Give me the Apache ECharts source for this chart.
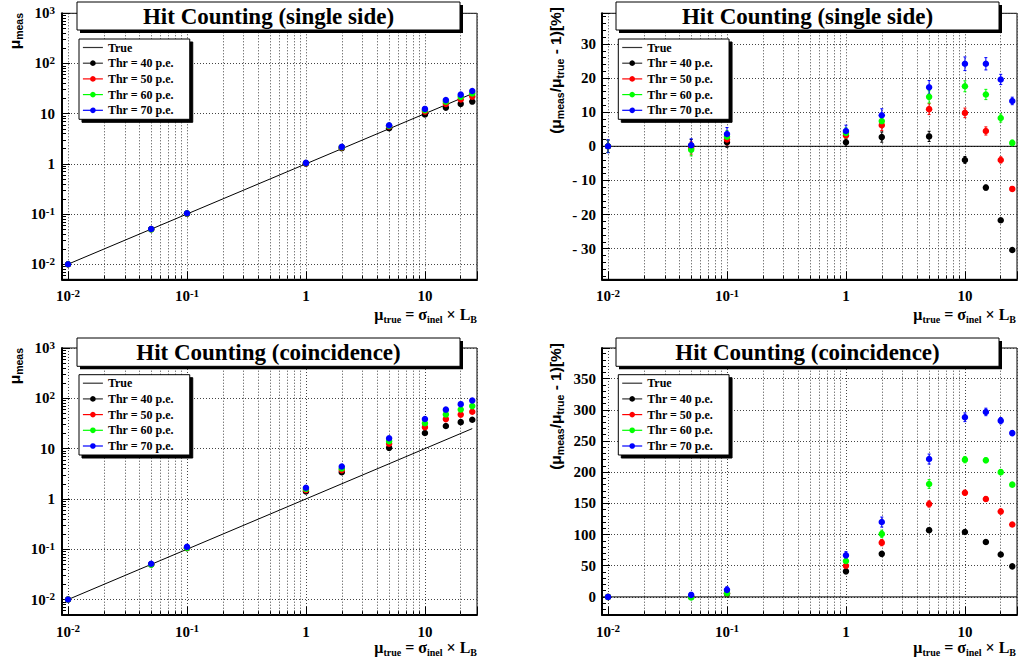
<!DOCTYPE html>
<html>
<head>
<meta charset="utf-8">
<script src="https://cdn.jsdelivr.net/npm/echarts@6/dist/echarts.min.js"></script>
<style>html,body{margin:0;padding:0;background:#fff}#c{width:1018px;height:666px}</style>
</head>
<body>
<div id="c"></div>
<script>
// ---------------- data ----------------
const muTrue = [0.01, 0.05, 0.1, 1, 2, 5, 10, 15, 20, 25];
const thresholds = ['Thr = 40 p.e.', 'Thr = 50 p.e.', 'Thr = 60 p.e.', 'Thr = 70 p.e.'];
const titles = ['Hit Counting (single side)', 'Hit Counting (single side)', 'Hit Counting (coincidence)', 'Hit Counting (coincidence)'];

// single side: measured mu
const single40 = [0.0100, 0.0501, 0.1012, 1.012, 2.055, 5.145, 9.60, 13.19, 15.67, 17.40];
const single50 = [0.0100, 0.0498, 0.1020, 1.032, 2.123, 5.545, 10.98, 15.68, 19.20, 21.88];
const single60 = [0.0100, 0.0495, 0.1028, 1.039, 2.148, 5.725, 11.76, 17.28, 21.66, 25.25];
const single70 = [0.0100, 0.0502, 0.1036, 1.045, 2.182, 5.865, 12.42, 18.63, 23.92, 28.33];

// single side: deviation [%]
const devSingle40 = [0.0, 0.2, 1.2, 1.2, 2.7, 2.9, -4.0, -12.1, -21.7, -30.4];
const devSingle50 = [0.0, -0.5, 2.0, 3.2, 6.2, 10.9, 9.8, 4.5, -4.0, -12.5];
const devSingle60 = [0.0, -1.0, 2.8, 3.9, 7.4, 14.5, 17.6, 15.2, 8.3, 1.0];
const devSingle70 = [0.0, 0.3, 3.6, 4.5, 9.1, 17.3, 24.2, 24.2, 19.6, 13.3];
const errSingle40 = [1.8, 1.8, 1.5, 1.2, 1.5, 1.5, 1.0, 0.7, 0.5, 0.4];
const errSingle50 = [1.8, 1.8, 1.6, 1.3, 1.6, 1.6, 1.4, 1.2, 0.9, 0.6];
const errSingle60 = [1.8, 1.8, 1.8, 1.5, 1.7, 1.8, 1.6, 1.5, 1.2, 0.8];
const errSingle70 = [1.9, 1.9, 1.9, 1.7, 1.9, 2.0, 2.0, 1.8, 1.5, 1.1];

// coincidence: measured mu
const coinc40 = [0.0100, 0.0500, 0.1050, 1.410, 3.39, 10.37, 20.4, 28.2, 33.6, 37.4];
const coinc50 = [0.0100, 0.0503, 0.1060, 1.500, 3.74, 12.47, 26.7, 38.6, 47.4, 54.0];
const coinc60 = [0.0100, 0.0495, 0.1060, 1.575, 4.02, 14.08, 32.0, 47.9, 60.0, 70.0];
const coinc70 = [0.0100, 0.0516, 0.1113, 1.666, 4.40, 16.05, 38.8, 59.5, 76.5, 90.7];

// coincidence: deviation [%]
const devCoinc40 = [0, 0.0, 5.0, 41.0, 69.0, 107.0, 104.0, 88.0, 68.0, 49.0];
const devCoinc50 = [0, 0.5, 6.0, 50.0, 87.0, 149.0, 167.0, 157.0, 137.0, 116.0];
const devCoinc60 = [0, -1.0, 6.0, 57.5, 101.0, 181.0, 220.0, 219.0, 200.0, 180.0];
const devCoinc70 = [0, 3.2, 11.3, 66.6, 120.0, 221.0, 288.0, 296.5, 282.5, 262.6];
const errCoinc40 = [2, 2, 3, 3, 3, 3, 3, 3, 3, 3];
const errCoinc50 = [2, 3, 3, 4, 5, 5, 4, 4, 4, 3];
const errCoinc60 = [2, 3, 4, 5, 6, 7, 5, 4, 4, 3];
const errCoinc70 = [2, 4, 5, 6, 8, 8, 7, 6, 5, 4];

// "True" reference line
const trueLineX = [0.01, 25];
const trueLineY = [0.01, 25];

// axis ranges and ticks
const X_MIN = 0.0089, X_MAX = 27.4;
const YLOG_MIN = 0.005, YLOG_MAX = 1000;
const devRanges = [[-39, 39], [-28.5, 399]];
const devSteps = [10, 50];
const xMinorTicks = [0.02, 0.03, 0.04, 0.05, 0.06, 0.07, 0.08, 0.09, 0.2, 0.3, 0.4, 0.5, 0.6, 0.7, 0.8, 0.9, 2, 3, 4, 5, 6, 7, 8, 9, 20];
const yLogMinorTicks = [0.006, 0.007, 0.008, 0.009, 0.02, 0.03, 0.04, 0.05, 0.06, 0.07, 0.08, 0.09, 0.2, 0.3, 0.4, 0.5, 0.6, 0.7, 0.8, 0.9, 2, 3, 4, 5, 6, 7, 8, 9, 20, 30, 40, 50, 60, 70, 80, 90, 200, 300, 400, 500, 600, 700, 800, 900];

const colors = ['#000000', '#ff0000', '#00ff00', '#0000ff'];

// ---------------- layout / style ----------------
const SERIF = 'Liberation Serif';
const SANS = 'Liberation Sans';
const panels = [
  { kind: 'abs', vals: [single40, single50, single60, single70] },
  { kind: 'dev', vals: [devSingle40, devSingle50, devSingle60, devSingle70], errs: [errSingle40, errSingle50, errSingle60, errSingle70], r: 0 },
  { kind: 'abs', vals: [coinc40, coinc50, coinc60, coinc70] },
  { kind: 'dev', vals: [devCoinc40, devCoinc50, devCoinc60, devCoinc70], errs: [errCoinc40, errCoinc50, errCoinc60, errCoinc70], r: 1 }
];
const layout = [
  { grid: { left: 62, top: 13.3, width: 415, height: 266 }, box: [77, 2, 383, 28], legend: [79, 39], yName: [14, 13], xName: [477, 314] },
  { grid: { left: 602, top: 13.3, width: 415, height: 266 }, box: [616, 2, 383, 28], legend: [618.3, 39], yName: [555, 7], xName: [1016, 314] },
  { grid: { left: 62, top: 348, width: 415, height: 266.7 }, box: [77, 338, 383, 28.3], legend: [79, 374.7], yName: [14, 348], xName: [477, 647] },
  { grid: { left: 602, top: 348, width: 415, height: 266.7 }, box: [616, 338, 383, 28.3], legend: [618.3, 374.7], yName: [555, 343], xName: [1016, 647] }
];

const gridLine = { color: '#444', width: 1, type: [1, 2] };
const tickStyle = { color: '#000', width: 1 };
const labelRich = {
  b: { fontFamily: SERIF, fontWeight: 'bold', fontSize: 15, lineHeight: 18, color: '#000' },
  s: { fontFamily: SERIF, fontWeight: 'bold', fontSize: 11, lineHeight: 10, verticalAlign: 'top', color: '#000' }
};
function logLabel(v) {
  const e = Math.log10(v), r = Math.round(e);
  if (Math.abs(e - r) > 1e-6) return '';
  if (r === 0) return '{b|1}';
  if (r === 1) return '{b|10}';
  return '{b|10}{s|' + r + '}';
}
function devLabel(step) {
  return function (v) {
    if (Math.abs(v / step - Math.round(v / step)) > 1e-6) return '';
    const n = Math.round(v);
    return n < 0 ? '- ' + (-n) : '' + n;
  };
}

const grids = [], xAxes = [], yAxes = [], series = [], legends = [], titleOpts = [], graphics = [];

panels.forEach(function (p, i) {
  const L = layout[i];
  grids.push(Object.assign({ show: true, borderColor: '#000', borderWidth: 1, backgroundColor: 'transparent', containLabel: false, outerBoundsMode: 'none' }, L.grid));

  xAxes.push({
    type: 'log', logBase: 10, gridIndex: i, min: X_MIN, max: X_MAX, position: 'bottom',
    axisLine: { show: true, onZero: false, lineStyle: { color: '#000', width: 2 } },
    axisTick: { show: true, inside: true, length: 8, lineStyle: tickStyle },
    axisLabel: { formatter: logLabel, rich: labelRich, margin: 8, fontFamily: SERIF, fontWeight: 'bold', fontSize: 15, color: '#000' },
    splitLine: { show: true, lineStyle: gridLine }
  });
  xAxes.push({
    type: 'log', logBase: 10, gridIndex: i, min: X_MIN, max: X_MAX, position: 'bottom',
    axisLine: { show: false, onZero: false },
    axisTick: { show: true, inside: true, length: 4, lineStyle: tickStyle, customValues: xMinorTicks },
    axisLabel: { show: false }, splitLine: { show: false }
  });

  if (p.kind === 'abs') {
    yAxes.push({
      type: 'log', logBase: 10, gridIndex: i, min: YLOG_MIN, max: YLOG_MAX, position: 'left',
      axisLine: { show: true, onZero: false, lineStyle: { color: '#000', width: 2 } },
      axisTick: { show: true, inside: true, length: 8, lineStyle: tickStyle },
      axisLabel: { formatter: logLabel, rich: labelRich, margin: 7, fontFamily: SERIF, fontWeight: 'bold', fontSize: 15, color: '#000' },
      splitLine: { show: true, lineStyle: gridLine }
    });
    yAxes.push({
      type: 'log', logBase: 10, gridIndex: i, min: YLOG_MIN, max: YLOG_MAX, position: 'left',
      axisLine: { show: false, onZero: false },
      axisTick: { show: true, inside: true, length: 4, lineStyle: tickStyle, customValues: yLogMinorTicks },
      axisLabel: { show: false }, splitLine: { show: false }
    });
  } else {
    const rg = devRanges[p.r];
    yAxes.push({
      type: 'value', gridIndex: i, min: rg[0], max: rg[1], splitNumber: 8, position: 'left',
      axisLine: { show: true, onZero: false, lineStyle: { color: '#000', width: 2 } },
      axisTick: { show: true, inside: true, length: 8, lineStyle: tickStyle },
      minorTick: { show: true, splitNumber: 5, length: 4, lineStyle: tickStyle },
      axisLabel: { formatter: devLabel(devSteps[p.r]), margin: 6, fontFamily: SERIF, fontWeight: 'bold', fontSize: 15, color: '#000' },
      splitLine: { show: true, lineStyle: gridLine }
    });
    yAxes.push({ type: 'value', gridIndex: i, min: rg[0], max: rg[1], position: 'left', show: false });
  }

  const xi = 2 * i, yi = 2 * i;
  const trueData = p.kind === 'abs'
    ? trueLineX.map(function (x, j) { return [x, trueLineY[j]]; })
    : [[X_MIN, 0], [X_MAX, 0]];
  series.push({
    type: 'line', name: 'True', xAxisIndex: xi, yAxisIndex: yi, data: trueData,
    symbol: 'none', lineStyle: { color: '#000', width: 1 }, itemStyle: { color: '#000' }, silent: true, z: 3,
    markLine: {
      silent: true, symbol: ['none', 'none'], label: { show: false }, lineStyle: gridLine, z: 1,
      emphasis: { disabled: true },
      data: xMinorTicks.map(function (v) { return { xAxis: v }; })
    }
  });

  if (p.kind === 'dev') {
    p.vals.forEach(function (vals, k) {
      series.push({
        type: 'custom', name: 'err' + i + '_' + k, xAxisIndex: xi, yAxisIndex: yi, silent: true, z: 4,
        itemStyle: { color: colors[k] },
        encode: { x: 0, y: 1 },
        data: muTrue.map(function (x, j) { return [x, vals[j], p.errs[k][j]]; }),
        renderItem: function (params, api) {
          const x = api.value(0), y = api.value(1), e = api.value(2);
          const t = api.coord([x, y + e]), b = api.coord([x, y - e]);
          const c = colors[k];
          return {
            type: 'group', children: [
              { type: 'line', shape: { x1: t[0], y1: t[1], x2: b[0], y2: b[1] }, style: { stroke: c, lineWidth: 1 } },
              { type: 'line', shape: { x1: t[0] - 1.5, y1: t[1], x2: t[0] + 1.5, y2: t[1] }, style: { stroke: c, lineWidth: 1 } },
              { type: 'line', shape: { x1: b[0] - 1.5, y1: b[1], x2: b[0] + 1.5, y2: b[1] }, style: { stroke: c, lineWidth: 1 } }
            ]
          };
        }
      });
    });
  }

  p.vals.forEach(function (vals, k) {
    series.push({
      type: 'line', name: thresholds[k], xAxisIndex: xi, yAxisIndex: yi, silent: true, z: 5 + k,
      data: muTrue.map(function (x, j) { return [x, vals[j]]; }),
      symbol: 'circle', symbolSize: 6.5, showSymbol: true, showAllSymbol: true,
      lineStyle: { width: 0, opacity: 0 },
      itemStyle: { color: colors[k], borderWidth: 0 }
    });
  });

  legends.push({
    left: L.legend[0], top: L.legend[1], orient: 'vertical', selectedMode: false, z: 60,
    padding: [1.5, 16, 2, 3.3], itemWidth: 20, itemHeight: 7, itemGap: 1.7,
    backgroundColor: '#fff', borderColor: '#000', borderWidth: 1,
    shadowColor: '#000', shadowOffsetX: 3, shadowOffsetY: 3, shadowBlur: 0,
    textStyle: { fontFamily: SERIF, fontWeight: 'bold', fontSize: 12, lineHeight: 14, color: '#000' },
    data: [{ name: 'True', lineStyle: { color: '#333', width: 1.2, opacity: 1 }, itemStyle: { opacity: 0 } }].concat(thresholds.map(function (n, k) {
      return { name: n, lineStyle: { color: k === 0 ? '#333' : colors[k], width: 1.2, opacity: 1 }, itemStyle: { color: colors[k] } };
    }))
  });

  const bx = L.box;
  titleOpts.push({
    text: titles[i], left: bx[0] + bx[2] / 2, top: bx[1] + bx[3] / 2 - 14, textAlign: 'center', padding: 0, z: 70,
    textStyle: { fontFamily: SERIF, fontWeight: 'bold', fontSize: 23, lineHeight: 28, color: '#000' }
  });
  graphics.push({ type: 'rect', z: 50, silent: true, shape: { x: bx[0] + 3, y: bx[1] + 3, width: bx[2], height: bx[3] }, style: { fill: '#000' } });
  graphics.push({ type: 'rect', z: 51, silent: true, shape: { x: bx[0], y: bx[1], width: bx[2], height: bx[3] }, style: { fill: '#fff', stroke: '#000', lineWidth: 1 } });

  const yText = p.kind === 'abs' ? '{m|μ}{s|meas}' : '{m|(μ}{s|meas}{m|/μ}{s|true}{m| - 1)[%]}';
  graphics.push({
    type: 'text', z: 40, silent: true, x: L.yName[0], y: L.yName[1], rotation: Math.PI / 2,
    style: {
      text: yText, align: 'right', verticalAlign: 'middle', fill: '#000',
      rich: {
        m: { fontFamily: SANS, fontWeight: 'bold', fontSize: 15.5, lineHeight: 20, fill: '#000' },
        s: { fontFamily: SANS, fontWeight: 'bold', fontSize: 10.5, lineHeight: 7, verticalAlign: 'bottom', fill: '#000' }
      }
    }
  });
  graphics.push({
    type: 'text', z: 40, silent: true, x: L.xName[0], y: L.xName[1],
    style: {
      text: '{m|μ}{s|true}{m| = σ}{s|inel}{m| × L}{s|B}', align: 'right', verticalAlign: 'middle', fill: '#000',
      rich: {
        m: { fontFamily: SERIF, fontWeight: 'bold', fontSize: 16, lineHeight: 20, fill: '#000' },
        s: { fontFamily: SERIF, fontWeight: 'bold', fontSize: 10, lineHeight: 8, verticalAlign: 'bottom', fill: '#000' }
      }
    }
  });
});

const chart = echarts.init(document.getElementById('c'), null, { renderer: 'svg', width: 1018, height: 666 });
chart.setOption({
  animation: false,
  backgroundColor: '#fff',
  textStyle: { fontFamily: SERIF },
  title: titleOpts,
  legend: legends,
  grid: grids,
  xAxis: xAxes,
  yAxis: yAxes,
  series: series,
  graphic: { elements: graphics }
});
</script>
</body>
</html>
